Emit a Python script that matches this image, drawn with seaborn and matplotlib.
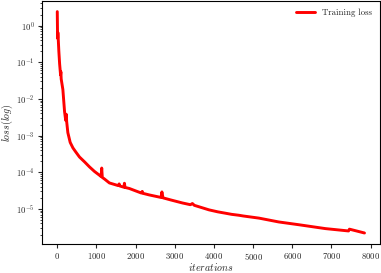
import matplotlib
matplotlib.use("Agg")
import matplotlib.pyplot as plt
import seaborn as sns

# training loss
iterations = [0, 8, 15, 20, 40, 60, 84, 92, 100, 143, 186, 215, 230, 240, 270,
              330, 400, 470, 567, 700, 822, 950, 1076, 1120, 1135, 1150, 1200,
              1331, 1500, 1560, 1580, 1600, 1700, 1715, 1730, 1840, 2000, 2150,
              2170, 2190, 2350, 2650, 2672, 2700, 2900, 3196, 3400, 3450, 3500,
              3875, 4100, 4300, 4450, 4638, 4750, 5150, 5656, 6165, 6845, 7438,
              7460, 7845]
loss = [2.4, 0.45, 0.65, 0.55, 0.2, 0.09, 0.045, 0.055, 0.035, 0.018, 0.0045,
        0.0026, 0.0038, 0.0024, 0.0012, 6.5e-4, 4.6e-4, 3.6e-4, 2.6e-4, 1.9e-4,
        1.4e-4, 1.05e-4, 8.3e-5, 7.6e-5, 1.3e-4, 7.2e-5, 6.6e-5, 5.1e-5, 4.5e-5,
        4.3e-5, 4.8e-5, 4.2e-5, 3.9e-5, 5.0e-5, 3.85e-5, 3.6e-5, 3.1e-5, 2.7e-5,
        3.0e-5, 2.65e-5, 2.4e-5, 2.05e-5, 2.9e-5, 2.0e-5, 1.75e-5, 1.45e-5,
        1.3e-5, 1.4e-5, 1.25e-5, 9.4e-6, 8.3e-6, 7.6e-6, 7.1e-6, 6.7e-6, 6.4e-6,
        5.6e-6, 4.4e-6, 3.7e-6, 2.9e-6, 2.5e-6, 2.8e-6, 2.2e-6]

sns.set_theme(style="ticks")
plt.rcParams["font.family"] = "serif"
plt.rcParams["font.serif"] = ["cmr10"]
plt.rcParams["mathtext.fontset"] = "cm"
plt.rcParams["axes.formatter.use_mathtext"] = True
plt.rcParams["axes.edgecolor"] = "black"
plt.rcParams["axes.linewidth"] = 0.8
plt.rcParams["xtick.major.size"] = 3
plt.rcParams["ytick.major.size"] = 3
plt.rcParams["ytick.minor.size"] = 1.8
plt.rcParams["xtick.major.width"] = 0.8
plt.rcParams["ytick.major.width"] = 0.8
plt.rcParams["ytick.minor.width"] = 0.6

fig = plt.figure(figsize=(3.81, 2.73), dpi=100)
ax = fig.add_axes([0.110, 0.106, 0.887, 0.892])
sns.lineplot(x=iterations, y=loss, color="red", linewidth=2.1, label="Training loss", ax=ax)
ax.set_yscale("log")
ax.set_xticks(range(0, 8001, 1000))
ax.tick_params(labelsize=6.3, pad=2)
ax.set_xlabel("$iterations$", fontsize=7.2)
ax.xaxis.set_label_coords(0.5, -0.068)
ax.set_ylabel("$loss(log)$", fontsize=7.2, labelpad=0.5)
ax.legend(loc="upper right", frameon=False, fontsize=6.3, handlelength=2.2)
fig.savefig("out.png", dpi=100)
